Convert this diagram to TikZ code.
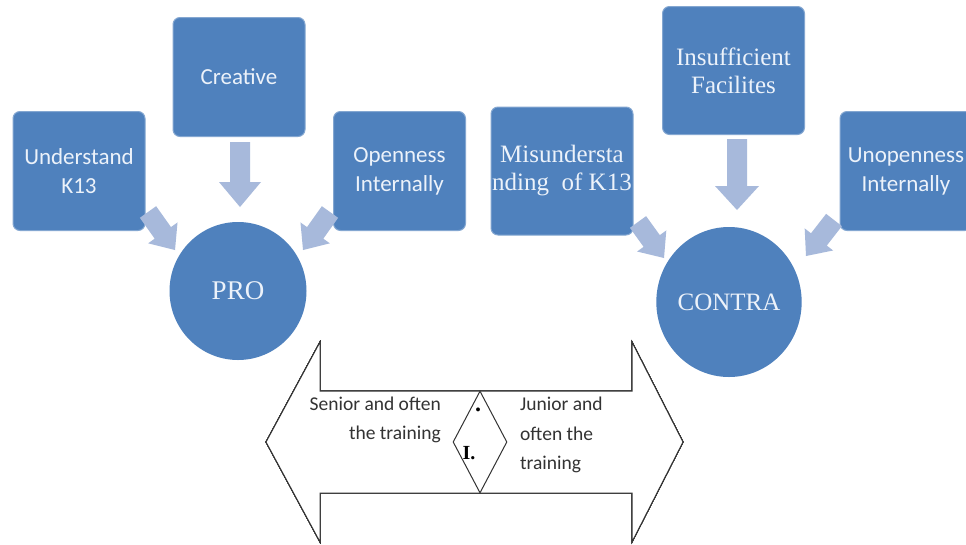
\documentclass[tikz,border=0pt]{standalone}
\usepackage{fontspec}
\setmainfont{Liberation Serif}
\newfontfamily\calibri{Carlito}
\usetikzlibrary{calc,shapes.geometric}

\definecolor{boxblue}{RGB}{79,129,189}
\definecolor{linkblue}{RGB}{167,185,219}
\definecolor{boxtext}{RGB}{236,242,250}

\tikzset{
  every box/.style={rectangle, rounded corners=7pt, fill=boxblue, draw=boxblue!70!white,
    line width=1pt, text=boxtext, align=center, inner sep=0pt},
  box sans/.style={every box, minimum width=132pt, minimum height=119pt,
    font=\calibri\fontsize{23}{29}\selectfont},
  box serif/.style={every box, minimum width=142pt, minimum height=128pt,
    font=\fontsize{25}{28}\selectfont},
  every side/.style={ellipse, fill=boxblue, text=boxtext, inner sep=0pt},
  link/.style={fill=linkblue},
  band/.style={fill=white, draw=black!80, line width=1pt},
  note/.style={inner sep=0pt, text=black!80, font=\calibri\fontsize{19.5}{29.5}\selectfont}
}

% tail, tip, shaft half width, head half width, head length
\newcommand{\blockarrow}[5]{%
  \coordinate (hb) at ($(#2)!#5!(#1)$);
  \fill [link] ($(#1)!#3!90:(#2)$) -- ($(hb)!#3!-90:(#1)$) -- ($(hb)!#4!-90:(#1)$) -- (#2)
    -- ($(hb)!#4!90:(#1)$) -- ($(hb)!#3!90:(#1)$) -- ($(#1)!#3!-90:(#2)$) -- cycle;
}

\begin{document}
\begin{tikzpicture}[x=1pt, y=-1pt, >=stealth]
  \clip (0,0) rectangle (966,544);
  \fill [white] (0,0) rectangle (966,544);
  % pro side
  \foreach \m/\x/\y/\l in {understand/79/171/{Understand\\K13},
      creative/239/77/Creative, openness/399.5/171/{Openness\\Internally}}
    \node [box sans] (\m) at (\x,\y) {\l};
  \node [every side, minimum width=137pt, minimum height=138pt,
    font=\fontsize{27}{30}\selectfont] (pro) at (238,291) {PRO};
  % contra side
  \foreach \m/\s/\x/\y/\l in {misunderstanding/box serif/562/171/{Misundersta\\nding\ \ of K13},
      insufficient/box serif/733.5/70.5/{Insufficient\\Facilites},
      unopenness/box sans/906/171/{Unopenness\\Internally}}
    \node [\s] (\m) at (\x,\y) {\l};
  \node [every side, minimum width=142pt, minimum height=150pt,
    font=\fontsize{25}{30}\selectfont] (contra) at (729,302) {CONTRA};
  % ends of the block arrows
  \foreach \n/\x/\y in {understand-out/148/212, pro-left/175/250,
      creative-out/240/142, pro-top/240/207, openness-out/330/212, pro-right/303/250,
      misunderstanding-out/638/222, contra-left/664/258,
      insufficient-out/737/139, contra-top/737/210,
      unopenness-out/834/220, contra-right/806/256}
    \coordinate (\n) at (\x,\y);
  \foreach \s/\e/\w/\h/\t in {understand-out/pro-left/10pt/18pt/21pt,
      creative-out/pro-top/10pt/21pt/25pt, openness-out/pro-right/10pt/18pt/21pt,
      misunderstanding-out/contra-left/10pt/18pt/21pt,
      insufficient-out/contra-top/10pt/22pt/24pt,
      unopenness-out/contra-right/10pt/18pt/21pt}
    \blockarrow{\s}{\e}{\w}{\h}{\t}
  % double arrow
  \draw [band] (266,442) -- (320,342) -- (320,391) -- (632,391) -- (632,342)
    -- (683,442) -- (632,542) -- (632,493) -- (320,493) -- (320,542) -- cycle;
  \node [diamond, band, minimum width=54pt, minimum height=102pt, inner sep=0pt]
    (split) at (480,442) {};
  \node [inner sep=0pt, font=\fontsize{24}{24}\selectfont\bfseries] (dot-a) at (478,410) {.};
  \node [inner sep=0pt, font=\fontsize{20}{20}\selectfont\bfseries] (dot-b) at (469,453) {I.};
  \node [note, align=right, anchor=east] (senior) at (441,420) {Senior and often\\the training};
  \node [note, align=left, anchor=west] (junior) at (520,435) {Junior and\\often the\\training};
\end{tikzpicture}
\end{document}
